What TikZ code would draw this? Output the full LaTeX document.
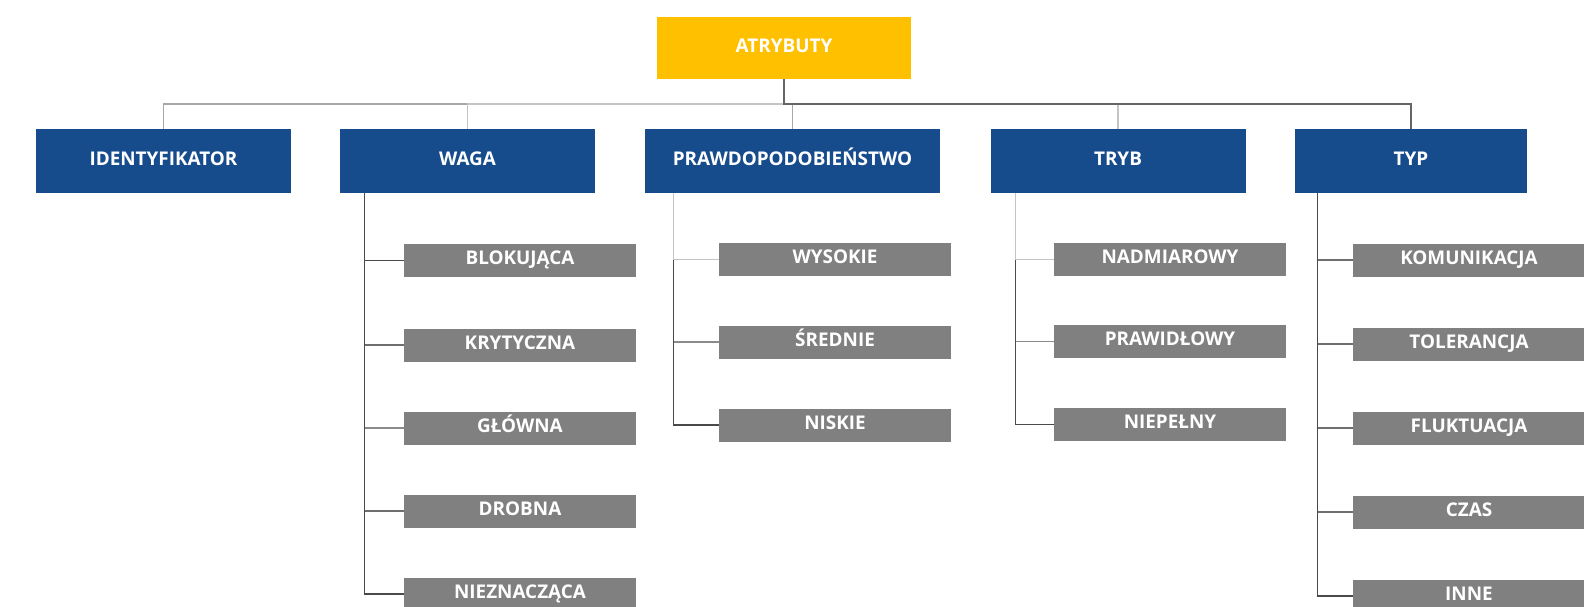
\documentclass[tikz,border=0pt]{standalone}
\usepackage{fontspec}
\setmainfont{Open Sans}
\definecolor{atrY}{HTML}{FFC000}
\definecolor{catB}{HTML}{174C8C}
\definecolor{leafG}{HTML}{808080}
\definecolor{lineL}{HTML}{C4C4C4}
\definecolor{lineM}{HTML}{8A8A8A}
\definecolor{lineD}{HTML}{4A4A4A}
\pgfdeclarelayer{links}
\pgfsetlayers{links,main}
\begin{document}
\begin{tikzpicture}[x=1pt,y=-1pt,
  box/.style={rectangle, inner sep=0pt, text=white, anchor=center,
    font=\bfseries\fontsize{18.9}{20}\selectfont, text height=13.5pt, text depth=5pt},
  rootbox/.style={box, fill=atrY, minimum width=254pt, minimum height=62pt},
  catbox/.style={box, fill=catB, minimum width=255pt, minimum height=64pt},
  leafbox/.style={box, fill=leafG, minimum width=232pt, minimum height=33pt},
  link/.style={line width=1.3pt},
]
\useasboundingbox (0,0) rectangle (1584,606);
\clip (0,0) rectangle (1584,606);

% root and categories
\node[rootbox] (A) at (784,48) {ATRYBUTY};
\node[catbox] (id) at (163.5,161) {IDENTYFIKATOR};
\node[catbox] (wg) at (467.5,161) {WAGA};
\node[catbox, minimum width=295pt] (pr) at (792.5,161) {PRAWDOPODOBIEŃSTWO};
\node[catbox] (tr) at (1118,161) {TRYB};
\node[catbox, minimum width=232pt] (ty) at (1411,161) {TYP};

% WAGA
\node[leafbox] (b1) at (520,260.5) {BLOKUJĄCA};
\node[leafbox] (b2) at (520,345) {KRYTYCZNA};
\node[leafbox] (b3) at (520,428) {GŁÓWNA};
\node[leafbox] (b4) at (520,511) {DROBNA};
\node[leafbox] (b5) at (520,594) {NIEZNACZĄCA};

% PRAWDOPODOBIEŃSTWO
\node[leafbox] (p1) at (835,259.5) {WYSOKIE};
\node[leafbox] (p2) at (835,342) {ŚREDNIE};
\node[leafbox] (p3) at (835,425) {NISKIE};

% TRYB
\node[leafbox] (t1) at (1170,259.5) {NADMIAROWY};
\node[leafbox] (t2) at (1170,341.5) {PRAWIDŁOWY};
\node[leafbox] (t3) at (1170,424.5) {NIEPEŁNY};

% TYP
\node[leafbox] (y1) at (1469,260) {KOMUNIKACJA};
\node[leafbox] (y2) at (1469,344) {TOLERANCJA};
\node[leafbox] (y3) at (1469,428) {FLUKTUACJA};
\node[leafbox] (y4) at (1469,512) {CZAS};
\node[leafbox] (y5) at (1469,596) {INNE};

% connectors, drawn behind the boxes
\coordinate (bus) at (0,104);
\begin{pgfonlayer}{links}
  % root to categories
  \draw[link,lineL!85!black] (A.south) -- (A.south |- bus) -| (id.north);
  \draw[link,lineL] (A.south) -- (A.south |- bus) -| (wg.north);
  \draw[link,lineL!85!black] (A.south) -- (A.south |- bus) -| (pr.north);
  \draw[link,lineL] (A.south) -- (A.south |- bus) -| (tr.north);
  \draw[link,lineD!85!white] (A.south) -- (A.south |- bus) -| (ty.north);

  % WAGA branch
  \draw[link,lineD] ([xshift=25pt]wg.south west) |- (b1.west);
  \draw[link,lineM!80!black] ([xshift=25pt]wg.south west) |- (b2.west);
  \draw[link,lineM] ([xshift=25pt]wg.south west) |- (b3.west);
  \draw[link,lineM!80!black] ([xshift=25pt]wg.south west) |- (b4.west);
  \draw[link,lineD] ([xshift=25pt]wg.south west) |- (b5.west);

  % PRAWDOPODOBIEŃSTWO branch
  \draw[link,lineM] ([xshift=28.5pt]pr.south west) |- (p2.west);
  \draw[link,lineD] ([xshift=28.5pt]pr.south west) |- (p3.west);
  \draw[link,lineL] ([xshift=28.5pt]pr.south west) |- (p1.west);

  % TRYB branch
  \draw[link,lineM] ([xshift=25pt]tr.south west) |- (t2.west);
  \draw[link,lineD] ([xshift=25pt]tr.south west) |- (t3.west);
  \draw[link,lineL] ([xshift=25pt]tr.south west) |- (t1.west);

  % TYP branch
  \draw[link,lineM!80!black] ([xshift=23pt]ty.south west) |- (y1.west);
  \draw[link,lineM!80!black] ([xshift=23pt]ty.south west) |- (y2.west);
  \draw[link,lineM!80!black] ([xshift=23pt]ty.south west) |- (y3.west);
  \draw[link,lineM!80!black] ([xshift=23pt]ty.south west) |- (y4.west);
  \draw[link,lineD] ([xshift=23pt]ty.south west) |- (y5.west);
\end{pgfonlayer}
\end{tikzpicture}
\end{document}
